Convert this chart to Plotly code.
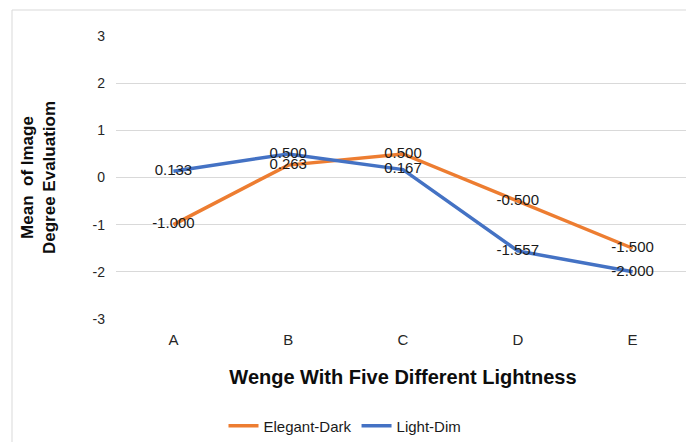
import plotly.graph_objects as go

categories = ["A", "B", "C", "D", "E"]
elegant_dark = [-1.000, 0.263, 0.500, -0.500, -1.500]
light_dim = [0.133, 0.500, 0.167, -1.557, -2.000]
y_ticks = [-3, -2, -1, 0, 1, 2, 3]
y_tick_text = ["-3", "-2", "-1", "0", "1", "2", "3"]

# the page body adds an 8px offset; margins are given in figure coordinates
OFF = 8
W, H = 694, 442
L, R, T, B = 116 - OFF, 12, 36 - OFF, 442 - (319 - OFF)
pw, ph = W - L - R, H - T - B

FONT = "Liberation Sans, Arial"

fig = go.Figure()
fig.add_trace(go.Scatter(
    x=categories, y=elegant_dark, name="Elegant-Dark", mode="lines+text",
    line=dict(color="#ED7D31", width=3.5),
    text=[f"{v:.3f}" for v in elegant_dark], textposition="middle center",
    textfont=dict(family=FONT, size=15, color="#1a1a1a"),
))
fig.add_trace(go.Scatter(
    x=categories, y=light_dim, name="Light-Dim", mode="lines+text",
    line=dict(color="#4472C4", width=3.5),
    text=[f"{v:.3f}" for v in light_dim], textposition="middle center",
    textfont=dict(family=FONT, size=15, color="#1a1a1a"),
))

def px(x):
    return (x - OFF - L) / pw

def py(y):
    return (H - B - (y - OFF)) / ph

fig.add_shape(type="rect", xref="paper", yref="paper",
              x0=px(12), x1=px(760), y0=py(10), y1=py(520),
              line=dict(color="#d9d9d9", width=1), fillcolor="rgba(0,0,0,0)", layer="below")

fig.update_layout(
    width=W, height=H,
    margin=dict(l=L, r=R, t=T, b=B, autoexpand=False),
    paper_bgcolor="white", plot_bgcolor="white",
    font=dict(family=FONT, size=14, color="#404040"),
    showlegend=True,
    legend=dict(orientation="h", x=px(345), xanchor="center", y=py(426), yanchor="middle",
                font=dict(size=15, color="#1a1a1a"), traceorder="normal"),
    xaxis=dict(type="category", range=[-0.5, 4.5], showgrid=False, showline=False,
               zeroline=False, ticks="", tickfont=dict(size=15, color="#262626"),
               ticklabelstandoff=10, automargin=False,
               title=dict(text="<b>Wenge With Five Different Lightness</b>",
                          font=dict(size=20, color="#0d0d0d"), standoff=22)),
    yaxis=dict(range=[-3, 3], tickvals=y_ticks, ticktext=y_tick_text, showgrid=True,
               gridcolor="#d9d9d9", gridwidth=1, zeroline=False, showline=False, ticks="",
               tickfont=dict(size=14, color="#262626"), ticklabelstandoff=10,
               automargin=False,
               title=dict(text="<b>Mean  of Image<br>Degree Evaluatiom</b>",
                          font=dict(size=17, color="#0d0d0d"), standoff=32)),
)

fig.write_html("out.html")
